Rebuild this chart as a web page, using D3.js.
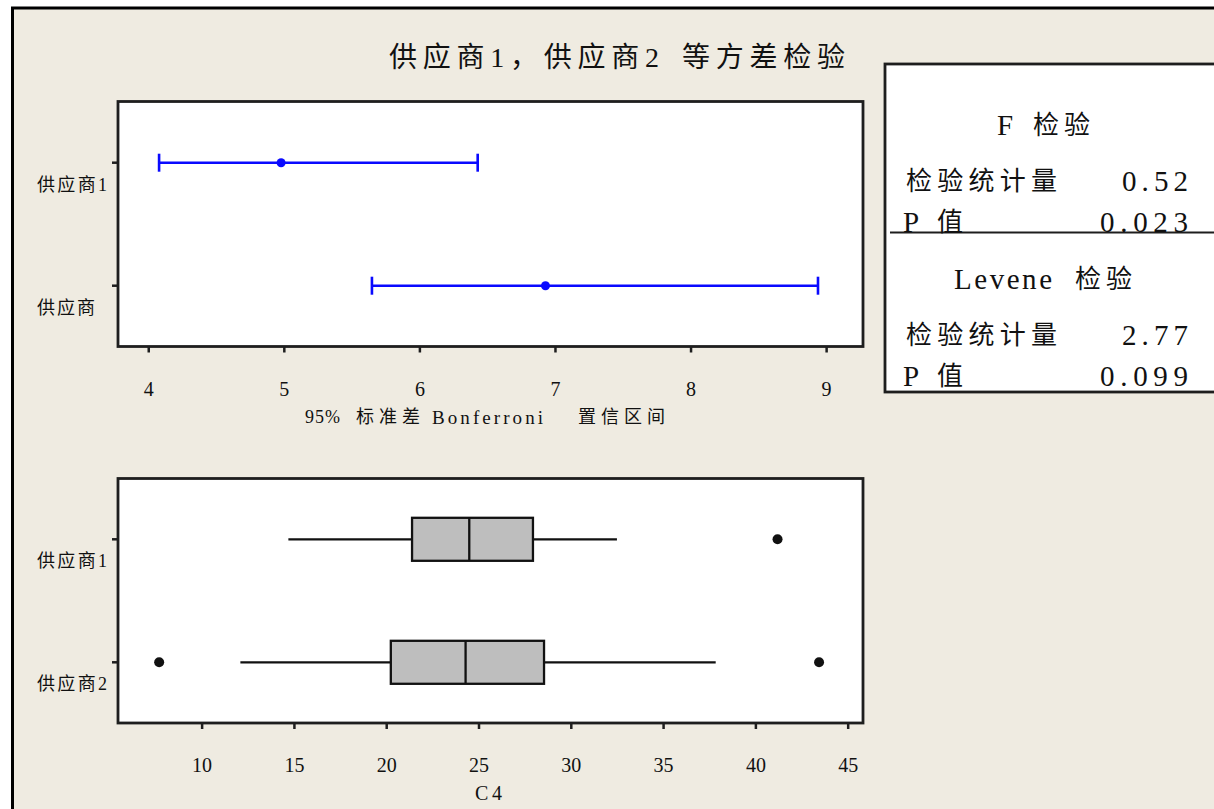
<!DOCTYPE html>
<html>
<head>
<meta charset="utf-8">
<script src="https://cdn.jsdelivr.net/npm/d3@7/dist/d3.min.js"></script>
<style>
  html, body { margin: 0; padding: 0; background: #ffffff; }
  svg { display: block; }
  text { font-family: "Liberation Serif", "Noto Sans CJK SC", serif; fill: #111; }
</style>
</head>
<body>
<svg id="chart" width="1214" height="809"></svg>
<script>
// ---- Data ----
const titleText = "供应商1，供应商2 等方差检验";

// Bonferroni confidence intervals for the standard deviation
const ciGroups = ["供应商1", "供应商"];
const ciLower = [4.08, 5.65];
const ciEstimate = [4.98, 6.93];
const ciUpper = [6.43, 8.94];
const ciTicks = [4, 5, 6, 7, 8, 9];
const ciAxisLabel = "95% 标准差 Bonferroni 置信区间";

// Boxplot summaries of C4
const boxGroups = ["供应商1", "供应商2"];
const whiskerLow = [14.7, 12.1];
const quart1 = [21.4, 20.25];
const medians = [24.5, 24.3];
const quart3 = [27.95, 28.55];
const whiskerHigh = [32.5, 37.85];
const outliers = [[41.2], [7.7, 43.45]];
const boxTicks = [10, 15, 20, 25, 30, 35, 40, 45];
const boxAxisLabel = "C4";

// Test results
const fTitle = "F 检验";
const fStat = "0.52";
const fP = "0.023";
const leveneTitle = "Levene 检验";
const leveneStat = "2.77";
const leveneP = "0.099";
const statLabel = "检验统计量";
const pLabel = "P 值";

// ---- Helpers ----
const svg = d3.select("#chart");
const frameStroke = "#1e1e1e";

// Draw a string word by word; each word gets its own start x and width.
function words(g, str, xs, lens, y, size) {
  const parts = str.split(" ");
  parts.forEach((p, i) => {
    const t = g.append("text")
      .attr("x", xs[i]).attr("y", y)
      .attr("dominant-baseline", "central")
      .attr("font-size", Array.isArray(size) ? size[i] : size)
      .text(p);
    if (lens && lens[i]) t.attr("textLength", lens[i]).attr("lengthAdjust", "spacing");
  });
}

// outer window
svg.append("rect")
  .attr("x", 12.5).attr("y", 8)
  .attr("width", 1220).attr("height", 820)
  .attr("fill", "#efebe1")
  .attr("stroke", "#000").attr("stroke-width", 3);

// title
words(svg, titleText, [389, 682], [270, 163], 57, 28);

// ---- Panel 1: confidence intervals ----
const p1 = { left: 118, right: 863, top: 101.5, bottom: 346.5 };
const x1 = d3.scaleLinear().domain([3.777, 9.272]).range([p1.left, p1.right]);
const y1 = d3.scalePoint().domain(ciGroups).range([162.7, 285.7]);

const g1 = svg.append("g");
g1.append("rect")
  .attr("x", p1.left).attr("y", p1.top)
  .attr("width", p1.right - p1.left).attr("height", p1.bottom - p1.top)
  .attr("fill", "#fff").attr("stroke", frameStroke).attr("stroke-width", 2.8);

const ax1 = g1.append("g")
  .attr("transform", `translate(0,${p1.bottom})`)
  .call(d3.axisBottom(x1).tickValues(ciTicks).tickSize(6).tickPadding(29).tickFormat(d3.format("d")));
ax1.select(".domain").remove();
ax1.selectAll(".tick line").attr("stroke", frameStroke).attr("stroke-width", 2.5);
ax1.selectAll(".tick text")
  .attr("font-family", "Liberation Serif, serif").attr("font-size", 20).attr("fill", "#111");

g1.selectAll(".ytick").data(ciGroups).join("line")
  .attr("x1", p1.left - 6).attr("x2", p1.left)
  .attr("y1", d => y1(d)).attr("y2", d => y1(d))
  .attr("stroke", frameStroke).attr("stroke-width", 2.5);

g1.selectAll(".ylab").data(ciGroups).join("text")
  .attr("x", 37).attr("y", d => y1(d) + 22)
  .attr("dominant-baseline", "central")
  .attr("font-size", 18)
  .attr("textLength", (d, i) => i === 0 ? 70 : 58).attr("lengthAdjust", "spacing")
  .text(d => d);

const ci = ciGroups.map((g, i) => ({ g, lo: ciLower[i], est: ciEstimate[i], hi: ciUpper[i] }));
const blue = "#0a0aff";
const capH = 9;
g1.selectAll(".ci").data(ci).join("line")
  .attr("x1", d => x1(d.lo)).attr("x2", d => x1(d.hi))
  .attr("y1", d => y1(d.g)).attr("y2", d => y1(d.g))
  .attr("stroke", blue).attr("stroke-width", 2.6);
g1.selectAll(".capL").data(ci).join("line")
  .attr("x1", d => x1(d.lo)).attr("x2", d => x1(d.lo))
  .attr("y1", d => y1(d.g) - capH).attr("y2", d => y1(d.g) + capH)
  .attr("stroke", blue).attr("stroke-width", 2.6);
g1.selectAll(".capR").data(ci).join("line")
  .attr("x1", d => x1(d.hi)).attr("x2", d => x1(d.hi))
  .attr("y1", d => y1(d.g) - capH).attr("y2", d => y1(d.g) + capH)
  .attr("stroke", blue).attr("stroke-width", 2.6);
g1.selectAll(".est").data(ci).join("circle")
  .attr("cx", d => x1(d.est)).attr("cy", d => y1(d.g))
  .attr("r", 4.5).attr("fill", blue);

// axis title, word by word
words(g1, ciAxisLabel, [305, 356, 432, 578], [35, 64, 111, 87], 417, [18, 18, 19, 18]);

// ---- Panel 2: boxplots ----
const p2 = { left: 118, right: 863, top: 478.5, bottom: 723 };
const x2 = d3.scaleLinear().domain([5.47, 45.83]).range([p2.left, p2.right]);
const y2 = d3.scalePoint().domain(boxGroups).range([539.3, 662.3]);

const g2 = svg.append("g");
g2.append("rect")
  .attr("x", p2.left).attr("y", p2.top)
  .attr("width", p2.right - p2.left).attr("height", p2.bottom - p2.top)
  .attr("fill", "#fff").attr("stroke", frameStroke).attr("stroke-width", 2.8);

const ax2 = g2.append("g")
  .attr("transform", `translate(0,${p2.bottom})`)
  .call(d3.axisBottom(x2).tickValues(boxTicks).tickSize(6).tickPadding(29).tickFormat(d3.format("d")));
ax2.select(".domain").remove();
ax2.selectAll(".tick line").attr("stroke", frameStroke).attr("stroke-width", 2.5);
ax2.selectAll(".tick text")
  .attr("font-family", "Liberation Serif, serif").attr("font-size", 20).attr("fill", "#111");

g2.selectAll(".ytick").data(boxGroups).join("line")
  .attr("x1", p2.left - 6).attr("x2", p2.left)
  .attr("y1", d => y2(d)).attr("y2", d => y2(d))
  .attr("stroke", frameStroke).attr("stroke-width", 2.5);

g2.selectAll(".ylab").data(boxGroups).join("text")
  .attr("x", 37).attr("y", d => y2(d) + 22)
  .attr("dominant-baseline", "central")
  .attr("font-size", 18)
  .attr("textLength", 70).attr("lengthAdjust", "spacing")
  .text(d => d);

const boxes = boxGroups.map((g, i) => ({
  g, wl: whiskerLow[i], q1: quart1[i], med: medians[i], q3: quart3[i], wh: whiskerHigh[i], out: outliers[i]
}));
const halfBox = 21.5;

g2.selectAll(".whL").data(boxes).join("line")
  .attr("x1", d => x2(d.wl)).attr("x2", d => x2(d.q1))
  .attr("y1", d => y2(d.g)).attr("y2", d => y2(d.g))
  .attr("stroke", "#111").attr("stroke-width", 2.3);
g2.selectAll(".whR").data(boxes).join("line")
  .attr("x1", d => x2(d.q3)).attr("x2", d => x2(d.wh))
  .attr("y1", d => y2(d.g)).attr("y2", d => y2(d.g))
  .attr("stroke", "#111").attr("stroke-width", 2.3);
g2.selectAll(".box").data(boxes).join("rect")
  .attr("x", d => x2(d.q1)).attr("width", d => x2(d.q3) - x2(d.q1))
  .attr("y", d => y2(d.g) - halfBox).attr("height", halfBox * 2)
  .attr("fill", "#bebebe").attr("stroke", "#111").attr("stroke-width", 2.3);
g2.selectAll(".med").data(boxes).join("line")
  .attr("x1", d => x2(d.med)).attr("x2", d => x2(d.med))
  .attr("y1", d => y2(d.g) - halfBox).attr("y2", d => y2(d.g) + halfBox)
  .attr("stroke", "#111").attr("stroke-width", 2.3);

const outPts = boxes.flatMap(d => d.out.map(v => ({ g: d.g, v })));
g2.selectAll(".out").data(outPts).join("circle")
  .attr("cx", d => x2(d.v)).attr("cy", d => y2(d.g))
  .attr("r", 5).attr("fill", "#111");

g2.append("text")
  .attr("x", 475).attr("y", 793)
  .attr("dominant-baseline", "central")
  .attr("font-size", 20)
  .attr("textLength", 27).attr("lengthAdjust", "spacing")
  .text(boxAxisLabel);

// ---- Test results panel ----
const tp = svg.append("g");
tp.append("rect")
  .attr("x", 885).attr("y", 64)
  .attr("width", 340).attr("height", 328)
  .attr("fill", "#fff").attr("stroke", frameStroke).attr("stroke-width", 2.8);
tp.append("line")
  .attr("x1", 890).attr("x2", 1214)
  .attr("y1", 232.5).attr("y2", 232.5)
  .attr("stroke", frameStroke).attr("stroke-width", 2.2);

// section headings
words(tp, fTitle, [997, 1033], [null, 57], 125, [29, 26]);
words(tp, leveneTitle, [954, 1075], [98, 57], 279, [29, 26]);

// label rows
const labelRows = [
  { t: statLabel, y: 181 },
  { t: pLabel, y: 222 },
  { t: statLabel, y: 335 },
  { t: pLabel, y: 376 }
];
labelRows.forEach(r => {
  if (r.t === pLabel) words(tp, r.t, [903, 937], [null, 28], r.y, [29, 26]);
  else words(tp, r.t, [906], [151], r.y, 26);
});

// values, right-aligned at the panel's inner edge
const valueRows = [
  { v: fStat, y: 181 },
  { v: fP, y: 222 },
  { v: leveneStat, y: 335 },
  { v: leveneP, y: 376 }
];
tp.selectAll(".val").data(valueRows).join("text")
  .attr("x", d => 1188 - (d.v.length - 1) * 22 - 0)
  .attr("y", d => d.y)
  .attr("dominant-baseline", "central")
  .attr("font-size", 29)
  .attr("textLength", d => (d.v.length - 1) * 22 + 0)
  .attr("lengthAdjust", "spacing")
  .text(d => d.v);
</script>
</body>
</html>
